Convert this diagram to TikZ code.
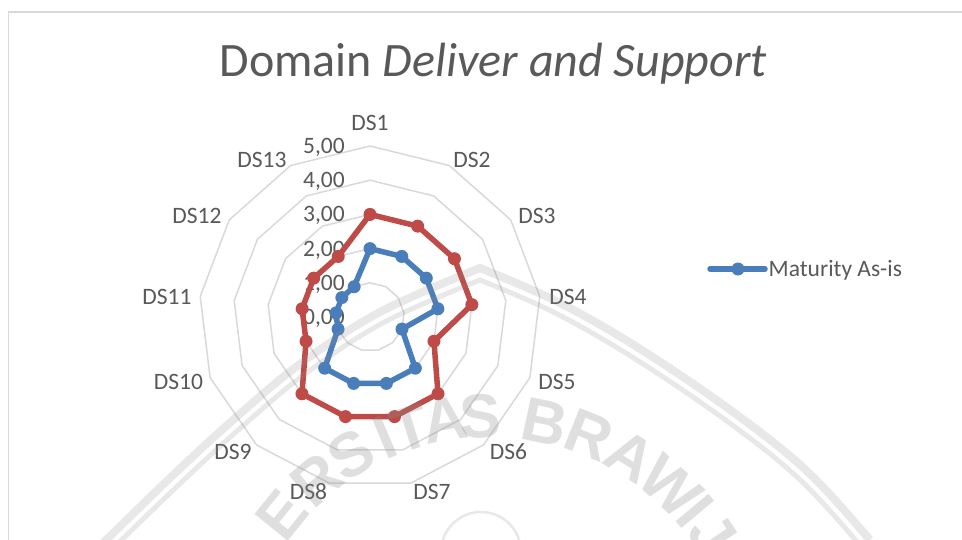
\documentclass[tikz,border=0pt]{standalone}
\usepackage{fontspec}
\setmainfont{Carlito}
\newfontfamily\wmfont{Liberation Sans}
\usetikzlibrary{calc}

\definecolor{txt}{HTML}{595959}
\definecolor{gridc}{HTML}{D9D9D9}
\definecolor{asis}{HTML}{4A7EBB}
\definecolor{tobe}{HTML}{BE4B48}
\definecolor{wm}{HTML}{8C8C8C}

\tikzset{
  gridring/.style={draw=gridc, line width=1.5pt, line join=round},
  serline/.style={line width=5.5pt, line join=round, line cap=round},
  lbl/.style={text=txt, font=\fontsize{23.5}{27}\selectfont, inner sep=0pt},
  titlestyle/.style={text=txt, font=\fontsize{48}{56}\selectfont, inner sep=0pt},
  wmletter/.style={text=wm, text opacity=0.27, font=\wmfont\bfseries\fontsize{62}{62}\selectfont, inner sep=0pt},
  wmband/.style={draw=wm, draw opacity=0.2, line join=miter},
}

\begin{document}
\begin{tikzpicture}[x=1pt,y=-1pt]
\useasboundingbox (0,0) rectangle (962,539);
\fill[white] (0,0) rectangle (962,539);

% chart area frame (left and top edges)
\draw[gridc, line width=1.6pt] (8.3,600) -- (8.3,11.7) -- (1000,11.7);

% title
\node[titlestyle, anchor=base west] (title) at (219.5,76.7) {Domain \textit{Deliver and Support}};

% radar chart, y pointing up inside
\begin{scope}[shift={(370,317)}, x=1pt, y=1pt]
  \def\u{34.2}
  \foreach \j in {1,...,5}
    \draw[gridring] (90:{\j*\u}) \foreach \k in {1,...,12} { -- ({90-\k*360/13}:{\j*\u}) } -- cycle;

  % value axis labels
  \foreach \j in {0,...,5}
    \node[lbl, anchor=base east] (tick\j) at (-25,{\j*\u-7.5}) {\j,00};

  % data points
  \foreach \v [count=\k] in {2,2,2,2,1,2,2,2,2,1,1,1,1}
    \coordinate (b\k) at ({90-(\k-1)*360/13}:{\v*\u});
  \foreach \v [count=\k] in {3,3,3,3,2,3,3,3,3,2,2,2,2}
    \coordinate (r\k) at ({90-(\k-1)*360/13}:{\v*\u});

  % Maturity As-is
  \draw[serline, asis] (b1) -- (b2) -- (b3) -- (b4) -- (b5) -- (b6) -- (b7)
    -- (b8) -- (b9) -- (b10) -- (b11) -- (b12) -- (b13) -- cycle;
  \foreach \k in {1,...,13} \fill[asis] (b\k) circle (6.5);

  % second series
  \draw[serline, tobe] (r1) -- (r2) -- (r3) -- (r4) -- (r5) -- (r6) -- (r7)
    -- (r8) -- (r9) -- (r10) -- (r11) -- (r12) -- (r13) -- cycle;
  \foreach \k in {1,...,13} \fill[tobe] (r\k) circle (6.5);
\end{scope}

% category labels
\node[lbl] (ds1)  at (370,122.5) {DS1};
\node[lbl] (ds2)  at (472,160) {DS2};
\node[lbl] (ds3)  at (537,215.5) {DS3};
\node[lbl] (ds4)  at (568,297) {DS4};
\node[lbl] (ds5)  at (557,382) {DS5};
\node[lbl] (ds6)  at (508.5,452) {DS6};
\node[lbl] (ds7)  at (432,492) {DS7};
\node[lbl] (ds8)  at (308.5,492) {DS8};
\node[lbl] (ds9)  at (233,452) {DS9};
\node[lbl] (ds10) at (178.5,382) {DS10};
\node[lbl] (ds11) at (167,297) {DS11};
\node[lbl] (ds12) at (197,216) {DS12};
\node[lbl] (ds13) at (262,160) {DS13};

% legend
\coordinate (lg1) at (710,269);
\coordinate (lg2) at (765,269);
\coordinate (lgm) at (738,269);
\draw[serline, asis] (lg1) -- (lg2);
\fill[asis] (lgm) circle (6.5);
\node[lbl, anchor=base west] (legtext) at (768.5,276.7) {Maturity As-is};

% watermark seal laid over the chart
\begin{scope}
  \clip (0,0) rectangle (962,539);
  \draw[wmband, line width=8pt]
    plot[smooth, tension=0.6] coordinates {(100,546) (170,478) (233,420) (300,364) (380,312) (480,268)}
    -- plot[smooth, tension=0.6] coordinates {(480,268) (560,303) (645,352) (740,417) (810,474) (870,540)};
  \draw[wmband, line width=5pt]
    plot[smooth, tension=0.6] coordinates {(107.6,553.6) (177.5,486) (240,428.4) (306.4,372.9) (384.9,321.8) (480,280)}
    -- plot[smooth, tension=0.6] coordinates {(480,280) (555.7,313.2) (639.3,361.5) (733.4,425.8) (802.6,482.2) (862.2,547.8)};
  \draw[wmband, line width=2.5pt] (481,552) circle (40);
  \begin{scope}[shift={(490,684)}, x=1pt, y=1pt]
    \foreach \ch/\a in {E/141,R/130.3,S/121.1,I/113,T/107.3,A/99.6,S/92.1,B/78.1,R/68.2,A/58.4,W/47.6,I/40,J/34}
      \node[wmletter, rotate=\a-90] at (\a:268) {\ch};
  \end{scope}
\end{scope}
\end{tikzpicture}
\end{document}
